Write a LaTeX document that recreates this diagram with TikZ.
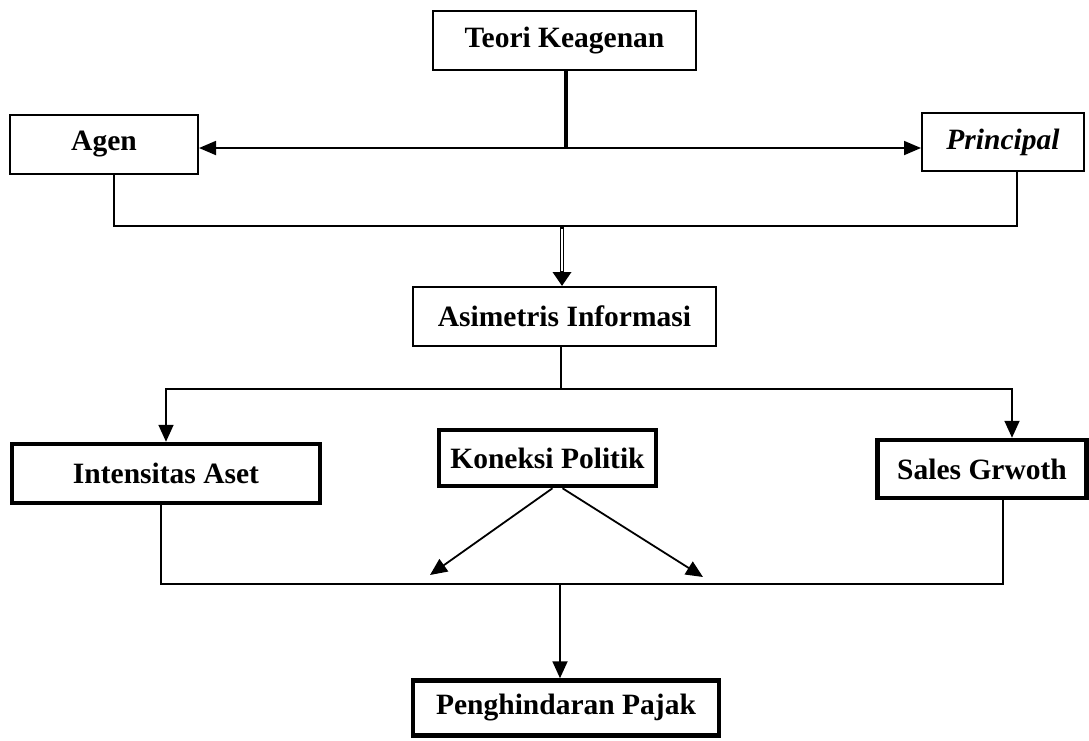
\documentclass[tikz,border=0pt]{standalone}
\usepackage{fontspec}
\setmainfont{Liberation Serif}
\usetikzlibrary{arrows.meta}
\begin{document}
\begin{tikzpicture}[x=1pt,y=-1pt,
  lbl/.style={font=\fontsize{29.5}{31}\selectfont\bfseries},
  thinbox/.style={draw,line width=2pt,inner sep=0pt,lbl},
  thickbox/.style={draw,line width=4.5pt,inner sep=0pt,lbl},
  conn/.style={line width=1.8pt},
  arr/.style={conn,-{Triangle[length=17pt,width=15pt]}}]
\useasboundingbox (0,0) rectangle (1089,740);

\node[thinbox,minimum width=263,minimum height=59] (teori) at (564.5,40.5) {Teori Keagenan};
\node[thinbox,minimum width=188,minimum height=59] (agen) at (104,144.5) {Agen};
\node[thinbox,minimum width=162,minimum height=58,font=\fontsize{29.5}{31}\selectfont\bfseries\itshape] (principal) at (1003,142) {Principal};
\node[thinbox,minimum width=303,minimum height=59] (asim) at (564.5,316.5) {Asimetris Informasi};
\node[thickbox,minimum width=308,minimum height=59] (intens) at (166,473.5) {Intensitas Aset};
\node[thickbox,minimum width=217,minimum height=56] (konek) at (547.5,458) {Koneksi Politik};
\node[thickbox,minimum width=209,minimum height=58] (sales) at (982,469) {Sales Grwoth};
\node[thickbox,minimum width=306,minimum height=55] (pajak) at (566,708) {Penghindaran Pajak};

% top part
\coordinate (j1) at (566,148);
\draw[line width=4pt] (teori.south -| j1) -- (j1);
\draw[conn,{Triangle[length=17pt,width=14pt]}-{Triangle[length=17pt,width=14pt]}] (j1 -| agen.east) -- (j1 -| principal.west);

\coordinate (j2) at (562,226);
\draw[conn] ([xshift=10]agen.south) |- (j2) -| ([xshift=14]principal.south);
\draw[line width=4.6pt,-{Triangle[length=14pt,width=18pt]}] (j2) -- (asim.north -| j2);
\draw[white,line width=1.4pt] ([yshift=-3pt]j2) -- ([yshift=15pt]asim.north -| j2);

% middle
\coordinate (j3) at (561,389);
\draw[conn] (asim.south -| j3) -- (j3);
\draw[arr] (j3) -| (intens.north);
\draw[arr] (j3) -| ([xshift=30]sales.north);

% koneksi politik arrows
\coordinate (kl) at (430,575);
\coordinate (kr) at (703,577);
\draw[arr] ([xshift=5]konek.south) -- (kl);
\draw[arr] ([xshift=15]konek.south) -- (kr);

% bottom
\coordinate (j4) at (560,584);
\draw[conn] ([xshift=-5]intens.south) |- (j4) -| ([xshift=21]sales.south);
\draw[arr] (j4) -- (pajak.north -| j4);
\end{tikzpicture}
\end{document}
